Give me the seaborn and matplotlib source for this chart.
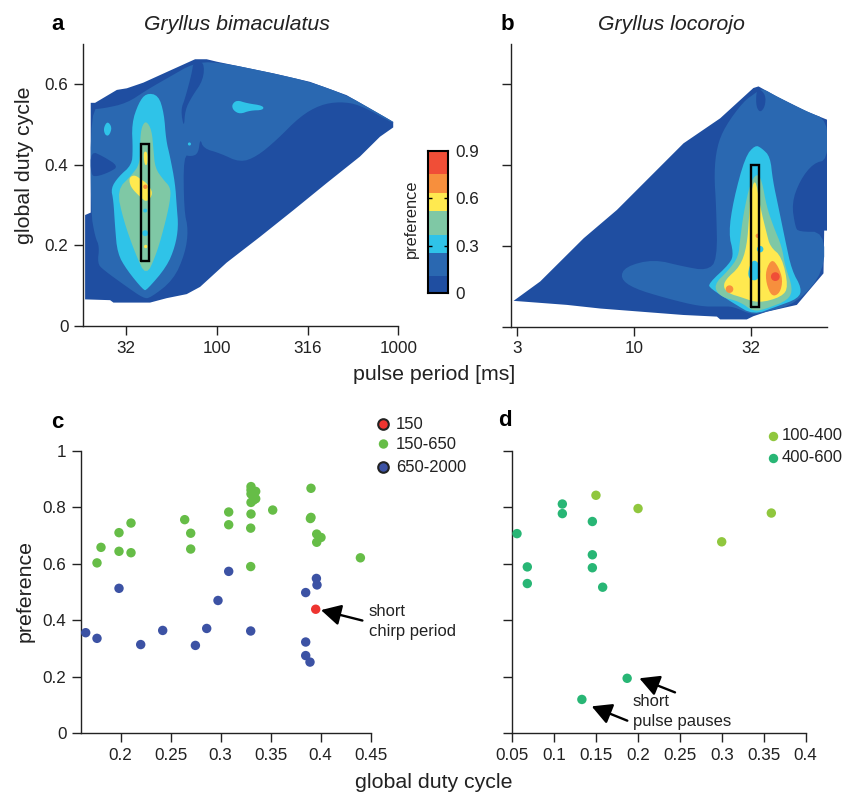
import numpy as np
import pandas as pd
import seaborn as sns
import matplotlib.pyplot as plt

W, H = 856, 795

# colour levels of preference
level_edges = [0, 0.11, 0.256, 0.37, 0.52, 0.635, 0.75, 0.9]
level_colors = ['#1F4EA1', '#2A68B1', '#2FC3E8', '#7FC8A5', '#FFE94F', '#F78F3D', '#F04E37']
DARK, MID, CYAN, GREEN, YELLOW, ORANGE, RED = level_colors

# panel a: regions of equal preference, log10(pulse period), duty cycle
a_outer_x = [1.274, 1.412, 1.430, 1.632, 1.724, 1.834, 1.908, 2.054, 2.238, 2.422, 2.605, 2.789, 2.899, 2.972, 2.972, 2.844, 2.715, 2.513, 2.312, 1.999, 1.944, 1.880, 1.742, 1.595, 1.504, 1.449, 1.329, 1.305, 1.305, 1.274]
a_outer_y = [.066, .064, .058, .058, .069, .079, .097, .157, .221, .287, .354, .420, .469, .492, .506, .539, .572, .605, .626, .655, .661, .661, .633, .603, .589, .585, .553, .553, .281, .275]
a_mid_x = [1.305, 1.375, 1.504, 1.614, 1.742, 1.871, 1.999, 2.312, 2.513, 2.715, 2.844, 2.972, 2.972, 2.789, 2.679, 2.569, 2.458, 2.330, 2.220, 2.128, 2.018, 1.926, 1.908, 1.898, 1.862, 1.816, 1.819, 1.843, 1.825, 1.761, 1.632, 1.595, 1.504, 1.375, 1.342, 1.353, 1.329, 1.305]
a_mid_y = [.537, .539, .552, .585, .618, .651, .655, .626, .605, .572, .539, .506, .502, .548, .556, .548, .519, .461, .420, .405, .428, .440, .465, .428, .420, .424, .287, .238, .180, .114, .069, .069, .097, .139, .155, .197, .221, .283]
a_channel_x = [1.871, 1.930, 1.926, 1.862, 1.825, 1.819, 1.801, 1.825, 1.862]
a_channel_y = [.655, .655, .610, .568, .535, .490, .535, .564, .626]
a_pocket_x = [1.305, 1.375, 1.458, 1.412, 1.338, 1.305]
a_pocket_y = [.434, .420, .396, .382, .370, .374]
a_cyan_x = [1.610, 1.678, 1.709, 1.720, 1.742, 1.770, 1.779, 1.788, 1.770, 1.724, 1.614, 1.595, 1.504, 1.452, 1.439, 1.430, 1.416, 1.458, 1.531, 1.537, 1.531, 1.568]
a_cyan_y = [.577, .572, .527, .461, .420, .354, .296, .246, .197, .147, .089, .089, .139, .180, .246, .312, .341, .370, .399, .436, .502, .552]
a_blob1_x = [1.375, 1.397, 1.423, 1.406, 1.384]
a_blob1_y = [.490, .508, .492, .471, .473]
a_blob2_x = [2.082, 2.110, 2.165, 2.256, 2.256, 2.183, 2.128, 2.091]
a_blob2_y = [.548, .560, .552, .546, .535, .534, .525, .534]
a_green_x = [1.610, 1.641, 1.651, 1.660, 1.706, 1.742, 1.746, 1.720, 1.669, 1.610, 1.550, 1.485, 1.449, 1.531, 1.577, 1.577, 1.586]
a_green_y = [.509, .486, .436, .391, .362, .345, .320, .263, .180, .122, .180, .263, .337, .374, .403, .461, .494]
a_yellow_x = [1.550, 1.586, 1.614, 1.651, 1.614, 1.577, 1.531, 1.517, 1.522]
a_yellow_y = [.374, .362, .354, .329, .306, .320, .341, .358, .370]
a_yellow2_x = [1.595, 1.618, 1.618, 1.601]
a_yellow2_y = [.432, .432, .399, .399]
a_spot_x = [1.606, 1.605, 1.605, 1.608, 1.849]
a_spot_y = [.345, .286, .230, .197, .451]
a_spot_c = [ORANGE, CYAN, CYAN, YELLOW, CYAN]
a_spot_s = [10, 8, 18, 6, 5]
a_box_period = [38.1, 42.3]
a_box_duty = [0.16, 0.45]

# panel b
b_outer_x = [.485, .713, .856, 1.212, 1.355, 1.369, 1.483, 1.511, 1.568, 1.697, 1.811, 1.814, 1.829, 1.829, 1.739, 1.611, 1.533, 1.511, 1.369, 1.212, .927, .785, .599]
b_outer_y = [.064, .054, .045, .029, .025, .018, .018, .026, .037, .054, .132, .238, .238, .512, .533, .570, .595, .591, .516, .454, .289, .219, .112]
b_mid_x = [1.547, 1.611, 1.739, 1.829, 1.829, 1.768, 1.711, 1.675, 1.690, 1.704, 1.814, 1.814, 1.697, 1.568, 1.504, 1.426, 1.369, 1.283, 1.141, .998, .941, .963, 1.084, 1.212, 1.312, 1.357, 1.352, 1.343, 1.355, 1.390, 1.469, 1.519]
b_mid_y = [.591, .570, .533, .512, .413, .405, .363, .306, .248, .235, .235, .136, .058, .037, .029, .050, .050, .050, .070, .095, .120, .149, .167, .149, .139, .165, .297, .380, .446, .496, .558, .578]
b_notch_x = [1.533, 1.564, 1.561, 1.540, 1.523, 1.523]
b_notch_y = [.591, .574, .545, .530, .545, .578]
b_cyan_x = [1.519, 1.547, 1.583, 1.594, 1.618, 1.647, 1.675, 1.718, 1.704, 1.611, 1.511, 1.426, 1.326, 1.319, 1.412, 1.426, 1.405, 1.426, 1.476]
b_cyan_y = [.450, .442, .421, .363, .297, .215, .140, .095, .070, .050, .029, .058, .095, .107, .157, .182, .231, .314, .421]
b_green_x = [1.526, 1.547, 1.568, 1.597, 1.633, 1.647, 1.680, 1.661, 1.568, 1.511, 1.454, 1.369, 1.340, 1.405, 1.447, 1.454, 1.469, 1.497]
b_green_y = [.380, .363, .297, .248, .198, .149, .095, .066, .045, .037, .062, .074, .103, .140, .173, .215, .281, .355]
b_yellow_x = [1.519, 1.540, 1.568, 1.583, 1.633, 1.661, 1.633, 1.533, 1.454, 1.412, 1.383, 1.390, 1.454, 1.483, 1.494, 1.497]
b_yellow_y = [.372, .297, .231, .198, .173, .099, .074, .058, .074, .081, .095, .116, .149, .198, .281, .322]
b_patch_x = [1.486, 1.504, 1.533, 1.543, 1.526, 1.497]
b_patch_y = [.132, .165, .161, .132, .114, .116]
b_orange_x = [1.590, 1.618, 1.637, 1.625, 1.590, 1.566, 1.564]
b_orange_y = [.168, .149, .116, .083, .074, .107, .140]
b_spot_x = [1.605, 1.409, 1.540, 1.530]
b_spot_y = [.124, .093, .192, .225]
b_spot_c = [RED, ORANGE, CYAN, ORANGE]
b_spot_s = [40, 30, 22, 10]
b_box_period = [31.8, 34.2]
b_box_duty = [0.048, 0.400]

# panel c
c_green_x = [.1763, .1803, .1983, .1983, .2103, .2103, .264, .27, .27, .308, .308, .3303, .3303, .335, .3303, .335, .3327, .3303, .3303, .33, .33, .352, .3903, .3903, .3897, .396, .4003, .396, .4397]
c_green_y = [.603, .658, .710, .644, .744, .639, .756, .708, .652, .783, .738, .873, .861, .856, .847, .830, .825, .817, .776, .726, .590, .790, .867, .764, .760, .705, .693, .676, .621]
c_blue_x = [.165, .1763, .1983, .22, .242, .2747, .286, .2973, .308, .33, .385, .3957, .3963, .385, .385, .3893]
c_blue_y = [.356, .336, .513, .314, .364, .311, .371, .470, .573, .362, .498, .548, .525, .323, .275, .252]
c_red_x = [.395]
c_red_y = [.439]
c_labels = ['150', '150-650', '650-2000']
c_colors = ['#EE3430', '#66BD47', '#3C52A4']

# panel d
d_light_x = [.1498, .2, .2998, .359]
d_light_y = [.843, .796, .678, .780]
d_teal_x = [.0556, .0679, .0679, .1097, .1097, .1455, .1455, .1455, .1578, .187, .133]
d_teal_y = [.707, .589, .530, .812, .778, .750, .632, .586, .517, .194, .119]
d_labels = ['100-400', '400-600']
d_colors = ['#90C73E', '#28B675']

sns.set_theme(style='ticks')
plt.rcParams['font.family'] = ['Liberation Sans', 'DejaVu Sans']
plt.rcParams['text.hinting'] = 'no_autohint'
plt.rcParams['text.color'] = '#222222'
plt.rcParams['axes.labelcolor'] = '#222222'
plt.rcParams['xtick.color'] = '#222222'
plt.rcParams['ytick.color'] = '#222222'

fig = plt.figure(figsize=(W / 100, H / 100), dpi=100)


def add_axes(left, right, top, bottom):
    return fig.add_axes([left / W, 1 - bottom / H, (right - left) / W, (bottom - top) / H])


def chaikin(x, y, n=2):
    # round off the corners of a closed outline
    pts = np.column_stack([x, y])
    for _ in range(n):
        nxt = np.roll(pts, -1, axis=0)
        pts = np.column_stack([0.75 * pts + 0.25 * nxt, 0.25 * pts + 0.75 * nxt]).reshape(-1, 2)
    return pts[:, 0], pts[:, 1]


def region(ax, x, y, color, smooth=True):
    if smooth:
        x, y = chaikin(x, y)
    ax.fill(10 ** np.asarray(x), y, color=color, lw=0)


def box(ax, period, duty):
    xs = [period[0], period[1], period[1], period[0], period[0]]
    ys = [duty[0], duty[0], duty[1], duty[1], duty[0]]
    ax.plot(xs, ys, color='black', lw=1.7, solid_joinstyle='miter')


def style(ax):
    sns.despine(ax=ax)
    for s in ['left', 'bottom']:
        ax.spines[s].set_linewidth(1.0)
        ax.spines[s].set_color('#222222')
    ax.tick_params(length=6.5, width=1.0, labelsize=12.3, pad=4)
    ax.minorticks_off()
    ax.set_xlabel('')
    ax.set_ylabel('')


# contour panels
ax_a = add_axes(83, 398.3, 43.5, 326)
ax_a.set_xscale('log')
region(ax_a, a_outer_x, a_outer_y, DARK, smooth=False)
region(ax_a, a_mid_x, a_mid_y, MID)
region(ax_a, a_channel_x, a_channel_y, DARK)
region(ax_a, a_pocket_x, a_pocket_y, DARK)
region(ax_a, a_cyan_x, a_cyan_y, CYAN)
region(ax_a, a_blob1_x, a_blob1_y, CYAN)
region(ax_a, a_blob2_x, a_blob2_y, CYAN)
region(ax_a, a_green_x, a_green_y, GREEN)
region(ax_a, a_yellow_x, a_yellow_y, YELLOW)
region(ax_a, a_yellow2_x, a_yellow2_y, YELLOW)
ax_a.scatter(10 ** np.array(a_spot_x), a_spot_y, c=a_spot_c, s=a_spot_s, lw=0)
box(ax_a, a_box_period, a_box_duty)
ax_a.set_xlim(18.3, 1000)
ax_a.set_ylim(0, 0.7)
ax_a.set_xticks([31.6, 100, 316, 1000], ['32', '100', '316', '1000'])
ax_a.set_yticks([0, 0.2, 0.4, 0.6], ['0', '0.2', '0.4', '0.6'])
style(ax_a)

ax_b = add_axes(510.7, 826.7, 44, 326.7)
ax_b.set_xscale('log')
region(ax_b, b_outer_x, b_outer_y, DARK, smooth=False)
region(ax_b, b_mid_x, b_mid_y, MID)
region(ax_b, b_notch_x, b_notch_y, DARK)
region(ax_b, b_cyan_x, b_cyan_y, CYAN)
region(ax_b, b_green_x, b_green_y, GREEN)
region(ax_b, b_yellow_x, b_yellow_y, YELLOW)
region(ax_b, b_patch_x, b_patch_y, CYAN)
region(ax_b, b_orange_x, b_orange_y, ORANGE)
ax_b.scatter(10 ** np.array(b_spot_x), b_spot_y, c=b_spot_c, s=b_spot_s, lw=0)
box(ax_b, b_box_period, b_box_duty)
ax_b.set_xlim(2.97, 66.8)
ax_b.set_ylim(0, 0.7)
ax_b.set_xticks([3.16, 10, 31.6], ['3', '10', '32'])
ax_b.set_yticks([0, 0.2, 0.4, 0.6], [])
style(ax_b)

# colour bar
ax_cb = add_axes(428.3, 448, 150.7, 293.3)
ax_cb.bar([0] * 7, np.diff(level_edges), bottom=level_edges[:-1], width=1, color=level_colors, lw=0)
ax_cb.hlines([0.3, 0.6], -0.5, -0.3, color='black', lw=1)
ax_cb.hlines([0.3, 0.6], 0.3, 0.5, color='black', lw=1)
ax_cb.set_xlim(-0.5, 0.5)
ax_cb.set_ylim(0, 0.9)
ax_cb.set_xticks([])
ax_cb.yaxis.tick_right()
ax_cb.set_yticks([0, 0.3, 0.6, 0.9], ['0', '0.3', '0.6', '0.9'])
ax_cb.tick_params(length=0, labelsize=12.3, pad=5)
for s in ax_cb.spines.values():
    s.set_visible(True)
    s.set_linewidth(1.5)
    s.set_color('black')

# scatter panels
df_c = pd.DataFrame({
    'duty': c_green_x + c_blue_x + c_red_x,
    'pref': c_green_y + c_blue_y + c_red_y,
    'group': ['150-650'] * len(c_green_x) + ['650-2000'] * len(c_blue_x) + ['150'] * len(c_red_x),
})
ax_c = add_axes(81, 370.7, 450.7, 733.3)
sns.scatterplot(data=df_c, x='duty', y='pref', hue='group', palette=dict(zip(c_labels, c_colors)),
                s=46, linewidth=0, legend=False, ax=ax_c, clip_on=False, zorder=3)
ax_c.set_xlim(0.1603, 0.45)
ax_c.set_ylim(0, 1)
ax_c.set_xticks([0.2, 0.25, 0.3, 0.35, 0.4, 0.45], ['0.2', '0.25', '0.3', '0.35', '0.4', '0.45'])
ax_c.set_yticks([0, 0.2, 0.4, 0.6, 0.8, 1], ['0', '0.2', '0.4', '0.6', '0.8', '1'])
style(ax_c)

df_d = pd.DataFrame({
    'duty': d_light_x + d_teal_x,
    'pref': d_light_y + d_teal_y,
    'group': ['100-400'] * len(d_light_x) + ['400-600'] * len(d_teal_x),
})
ax_d = add_axes(512.3, 805.7, 451, 733)
sns.scatterplot(data=df_d, x='duty', y='pref', hue='group', palette=dict(zip(d_labels, d_colors)),
                s=46, linewidth=0, legend=False, ax=ax_d, clip_on=False, zorder=3)
ax_d.set_xlim(0.05, 0.4)
ax_d.set_ylim(0, 1)
ax_d.set_xticks([0.05, 0.1, 0.15, 0.2, 0.25, 0.3, 0.35, 0.4], ['0.05', '0.1', '0.15', '0.2', '0.25', '0.3', '0.35', '0.4'])
ax_d.set_yticks([0, 0.2, 0.4, 0.6, 0.8, 1], [])
style(ax_d)

# arrows
arrow = dict(arrowstyle='-|>,head_length=0.6,head_width=0.32', color='black', lw=1.7, mutation_scale=20, shrinkA=0, shrinkB=0)
ax_c.annotate('', xy=(.4003, .436), xytext=(.4417, .399), arrowprops=arrow)
ax_d.annotate('', xy=(.2016, .194), xytext=(.2441, .144), arrowprops=arrow)
ax_d.annotate('', xy=(.1447, .0945), xytext=(.1872, .0437), arrowprops=arrow)

# overlay in pixels for the loose text and legend keys
ov = fig.add_axes([0, 0, 1, 1], zorder=5)
ov.set_xlim(0, W)
ov.set_ylim(H, 0)
ov.axis('off')


def label(x, y, s, size=12, **kw):
    ov.text(x, y, s, fontsize=size, ha=kw.pop('ha', 'left'), va='center', **kw)


label(58, 24, 'a', 16, ha='center', weight='bold', color='black')
label(507, 24, 'b', 16, ha='center', weight='bold', color='black')
label(57, 423, 'c', 16, ha='center', weight='bold', color='black')
label(505, 420, 'd', 16, ha='center', weight='bold', color='black')
label(237, 24, 'Gryllus bimaculatus', 15.3, ha='center', style='italic')
label(671, 24, 'Gryllus locorojo', 15.3, ha='center', style='italic')
label(25, 165, 'global duty cycle', 15.3, ha='center', rotation=90)
label(25, 591, 'preference', 15.3, ha='center', rotation=90)
label(434, 374, 'pulse period [ms]', 15.3, ha='center')
label(433.5, 783, 'global duty cycle', 15.3, ha='center')
label(411, 219, 'preference', 11.8, ha='center', rotation=90)
label(369, 612, 'short', 12)
label(369, 632, 'chirp period', 12)
label(633, 702, 'short', 12)
label(633, 722, 'pulse pauses', 12)

c_key_y = [424, 444, 467]
c_key_edge = ['#222222', 'none', '#222222']
for yy, col, edge, txt in zip(c_key_y, c_colors, c_key_edge, c_labels):
    ov.scatter([383.5], [yy], s=46 if edge == 'none' else 58, color=col, edgecolor=edge, linewidth=1.5 if edge != 'none' else 0)
    label(396, yy + 1, txt, 12)
d_key_y = [436, 458]
for yy, col, txt in zip(d_key_y, d_colors, d_labels):
    ov.scatter([772.7], [yy], s=46, color=col, linewidth=0)
    label(782, yy, txt, 12)
ov.set_xlim(0, W)
ov.set_ylim(H, 0)

fig.savefig('out.png', dpi=100)
